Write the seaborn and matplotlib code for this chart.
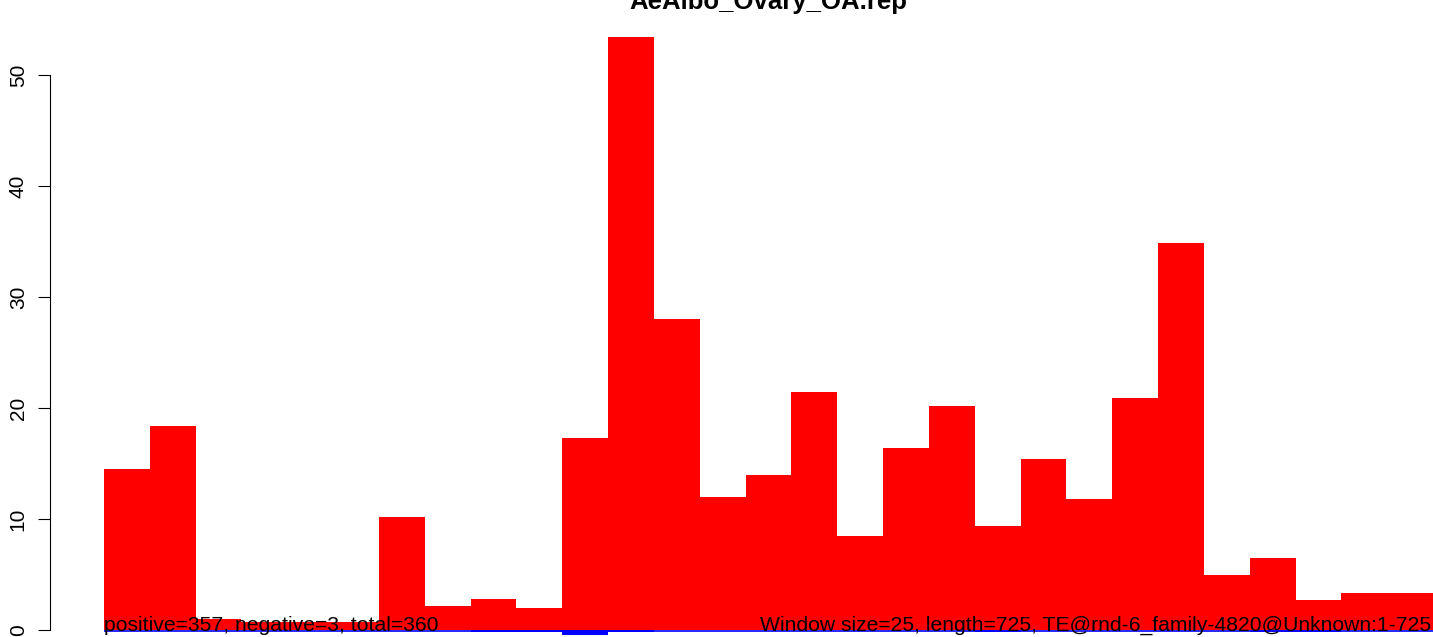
# AeAlbo_Ovary_OA.rep 윈도우별 양/음 가닥 막대 그래프 (R barplot 스타일 재현)

import matplotlib
matplotlib.use("Agg")
import matplotlib.pyplot as plt
import seaborn as sns

TITLE = "AeAlbo_Ovary_OA.rep"
LEFT_NOTE = "positive=357, negative=3, total=360"
RIGHT_NOTE = "Window size=25, length=725, TE@rnd-6_family-4820@Unknown:1-725"

# 25bp 윈도우 29개
WINDOWS = list(range(29))
POSITIVE = [14.5, 18.4, 1.0, 0.7, 0.7, 0.7, 10.2, 2.2, 2.8, 2.0,
            17.3, 53.4, 28.0, 12.0, 14.0, 21.4, 8.5, 16.4, 20.2, 9.4,
            15.4, 11.8, 20.9, 34.9, 5.0, 6.5, 2.7, 3.3, 3.3]
NEGATIVE = [0, 0, 0, 0, 0, 0, 0, 0, -0.15, -0.15,
            -0.45, -0.15, 0, 0, 0, 0, 0, 0, 0, -0.15,
            0, 0, 0, 0, 0, -0.15, -0.15, 0, 0]
YTICKS = [0, 10, 20, 30, 40, 50]

sns.set_style("white")
plt.rcParams["font.family"] = ["Liberation Sans", "DejaVu Sans"]
plt.rcParams["text.color"] = "black"
plt.rcParams["ytick.color"] = "black"

W, H = 1433, 637
fig = plt.figure(figsize=(W / 100, H / 100), dpi=100)
ax = fig.add_axes([50 / W, 0, 1 - 50 / W, 1])

sns.barplot(x=WINDOWS, y=POSITIVE, color="#ff0000", saturation=1, width=1,
            linewidth=0, ax=ax)
sns.barplot(x=WINDOWS, y=NEGATIVE, color="#0000ff", saturation=1, width=1,
            linewidth=0, ax=ax)
ax.hlines(-0.05, -0.5, 28.5, color="#0000ff", lw=1.2)

# 축 범위: 막대 시작 104px, 0 기준선 630px
ax.set_xlim(-1.678, 28.5)
ax.set_ylim(-0.63, 56.76)

for s in ["top", "right", "bottom"]:
    ax.spines[s].set_visible(False)
ax.spines["left"].set_bounds(0, 50)
ax.spines["left"].set_linewidth(0.8)
ax.spines["left"].set_color("black")
ax.set_xticks([])
ax.set_yticks(YTICKS)
ax.set_yticklabels([str(t) for t in YTICKS], rotation=90, va="center",
                   fontsize=15, color="black")
ax.tick_params(axis="y", left=True, length=9, width=0.8, pad=7, color="black")

ax.text(-0.5, -0.1, LEFT_NOTE, ha="left", va="baseline", fontsize=15.2)
ax.text(28.45, -0.1, RIGHT_NOTE, ha="right", va="baseline", fontsize=15.2)

fig.text(768 / W, 1 - 9 / H, TITLE, ha="center", va="baseline",
         fontsize=18.5, fontweight="bold")

fig.savefig("out.png", dpi=100)
plt.close(fig)
